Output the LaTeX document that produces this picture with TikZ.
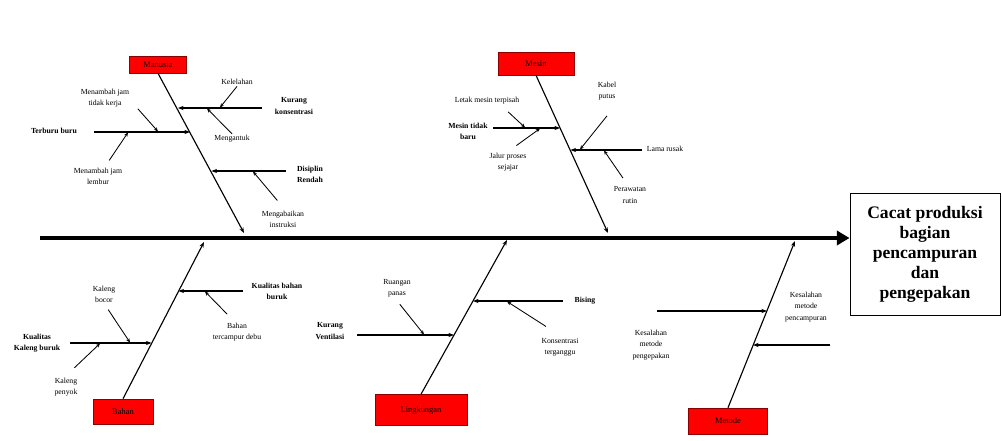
\documentclass[tikz,border=0pt]{standalone}
\usepackage{fontspec}
\setmainfont{Liberation Serif}
\usetikzlibrary{arrows.meta}

\tikzset{
	lbl/.style={font=\fontsize{5.5}{8}\selectfont, align=center, inner sep=1pt},
	blbl/.style={lbl, font=\fontsize{5.5}{8}\selectfont\bfseries},
	catbox/.style={draw=red!55!black, fill=red, inner sep=0pt, font=\fontsize{6}{7}\selectfont, text=black},
	spine/.style={line width=3.4pt, -{Triangle[length=9pt,width=10pt]}},
	bone/.style={line width=0.8pt, -{Stealth[length=4pt,width=3pt]}},
	twig/.style={line width=0.6pt, -{Stealth[length=3pt,width=2.5pt]}},
}

\begin{document}
\begin{tikzpicture}[x=0.025cm, y=-0.025cm]
	\useasboundingbox (0,0) rectangle (1002,441);

	% kepala ikan
	\node[draw, semithick, minimum width=3.75cm, minimum height=3.05cm, align=center,
		font=\fontsize{12.5}{14.2}\selectfont\bfseries] (akibat) at (925,254)
		{Cacat produksi\\bagian\\pencampuran\\dan\\pengepakan};
	\coordinate (s0) at (40,238);
	\draw[spine] (s0) -- (s0 -| akibat.west);

	% kategori
	\node[catbox, minimum width=1.425cm, minimum height=0.425cm] (manusia) at (158,64.5) {Manusia};
	\node[catbox, minimum width=1.9cm, minimum height=0.575cm] (mesin) at (536,63.5) {Mesin};
	\node[catbox, minimum width=1.5cm, minimum height=0.625cm] (bahan) at (123,411.5) {Bahan};
	\node[catbox, minimum width=2.3cm, minimum height=0.775cm] (lingkungan) at (421,410) {Lingkungan};
	\node[catbox, minimum width=1.975cm, minimum height=0.65cm] (metode) at (728,421) {Metode};

	\coordinate (m0) at (244,233);
	\coordinate (s1) at (608,233);
	\coordinate (b0) at (204,242);
	\coordinate (l0) at (507,240);
	\coordinate (t0) at (795,241);
	\draw[bone] (manusia.south) -- (m0);
	\draw[bone] (mesin.south) -- (s1);
	\draw[bone] (bahan.north) -- (b0);
	\draw[bone] (lingkungan.north) -- (l0);
	\draw[bone] (metode.north) -- (t0);

	% manusia
	\node[blbl] (konsentrasi) at (294,106) {Kurang\\konsentrasi};
	\node[lbl] (lelah) at (237,82) {Kelelahan};
	\node[lbl] (ngantuk) at (232,139) {Mengantuk};
	\node[blbl] (terburu) at (54,131) {Terburu buru};
	\node[lbl] (jamkerja) at (105,98) {Menambah jam\\tidak kerja};
	\node[lbl] (jamlembur) at (98,176) {Menambah jam\\lembur};
	\node[blbl] (disiplin) at (310,174) {Disiplin\\Rendah};
	\node[lbl] (abai) at (283,219) {Mengabaikan\\instruksi};

	\coordinate (ma1) at (262,108);
	\coordinate (mb1) at (178,108);
	\coordinate (ma2) at (94,132);
	\coordinate (mb2) at (190,132);
	\coordinate (ma3) at (286,171);
	\coordinate (mb3) at (211.5,171);
	\draw[bone] (ma1) -- (mb1);
	\draw[bone] (ma2) -- (mb2);
	\draw[bone] (ma3) -- (mb3);
	\draw[twig] (lelah.south) -- (220,107.5);
	\draw[twig] (ngantuk.north) -- (207,108.5);
	\draw[twig] ([xshift=5pt]jamkerja.south east) -- (158,131.5);
	\draw[twig] ([xshift=8pt,yshift=4pt]jamlembur.north) -- (128,132.5);
	\draw[twig] ([xshift=-4pt,yshift=6pt]abai.north) -- (253,171.5);

	% mesin
	\node[blbl] (mesinbaru) at (468,131) {Mesin tidak\\baru};
	\node[lbl] (letak) at (487,101) {Letak mesin terpisah};
	\node[lbl] (jalur) at (508,162) {Jalur proses\\sejajar};
	\node[lbl] (rusak) at (665,149) {Lama rusak};
	\node[lbl] (kabel) at (607,91) {Kabel\\putus};
	\node[lbl] (rawat) at (630,195) {Perawatan\\rutin};

	\coordinate (sa1) at (493,128);
	\coordinate (sb1) at (560,128);
	\coordinate (sa2) at (642,150);
	\coordinate (sb2) at (570.5,150);
	\draw[bone] (sa1) -- (sb1);
	\draw[bone] (sa2) -- (sb2);
	\draw[twig] ([xshift=15pt,yshift=-4pt]letak.south) -- (525,127.5);
	\draw[twig] ([xshift=6pt,yshift=4pt]jalur.north) -- (540,128.5);
	\draw[twig] ([yshift=-10pt]kabel.south) -- (580,149.5);
	\draw[twig] ([xshift=-5pt,yshift=5pt]rawat.north) -- (604,150.5);

	% bahan
	\node[blbl] (kualitasbahan) at (277,291) {Kualitas bahan\\buruk};
	\node[lbl] (debu) at (237,332) {Bahan\\tercampur debu};
	\node[blbl] (kualitaskaleng) at (37,343) {Kualitas\\Kaleng buruk};
	\node[lbl] (bocor) at (104,294) {Kaleng\\bocor};
	\node[lbl] (penyok) at (66,387) {Kaleng\\penyok};

	\coordinate (ba1) at (243,291);
	\coordinate (bb1) at (178.5,291);
	\coordinate (ba2) at (70,343);
	\coordinate (bb2) at (151.5,343);
	\draw[bone] (ba1) -- (bb1);
	\draw[bone] (ba2) -- (bb2);
	\draw[twig] ([xshift=-7pt,yshift=5pt]debu.north) -- (205,291.5);
	\draw[twig] ([xshift=3pt,yshift=-4pt]bocor.south) -- (130,342.5);
	\draw[twig] ([xshift=6pt,yshift=6pt]penyok.north) -- (100,343.5);

	% lingkungan
	\node[blbl] (bising) at (585,301) {Bising};
	\node[lbl] (terganggu) at (560,347) {Konsentrasi\\terganggu};
	\node[blbl] (ventilasi) at (330,331) {Kurang\\Ventilasi};
	\node[lbl] (panas) at (397,288) {Ruangan\\panas};

	\coordinate (la1) at (563,301);
	\coordinate (lb1) at (473,301);
	\coordinate (la2) at (357,335);
	\coordinate (lb2) at (454,335);
	\draw[bone] (la1) -- (lb1);
	\draw[bone] (la2) -- (lb2);
	\draw[twig] ([xshift=-10pt,yshift=7pt]terganggu.north) -- (507,301.5);
	\draw[twig] ([xshift=2pt,yshift=-4pt]panas.south) -- (424,334.5);

	% metode
	\node[lbl] (salahpak) at (651,345) {Kesalahan\\metode\\pengepakan};
	\node[lbl] (salahcampur) at (806,307) {Kesalahan\\metode\\pencampuran};

	\coordinate (ta1) at (657,311);
	\coordinate (tb1) at (767,311);
	\coordinate (ta2) at (830,345);
	\coordinate (tb2) at (753,345);
	\draw[bone] (ta1) -- (tb1);
	\draw[bone] (ta2) -- (tb2);
\end{tikzpicture}
\end{document}
